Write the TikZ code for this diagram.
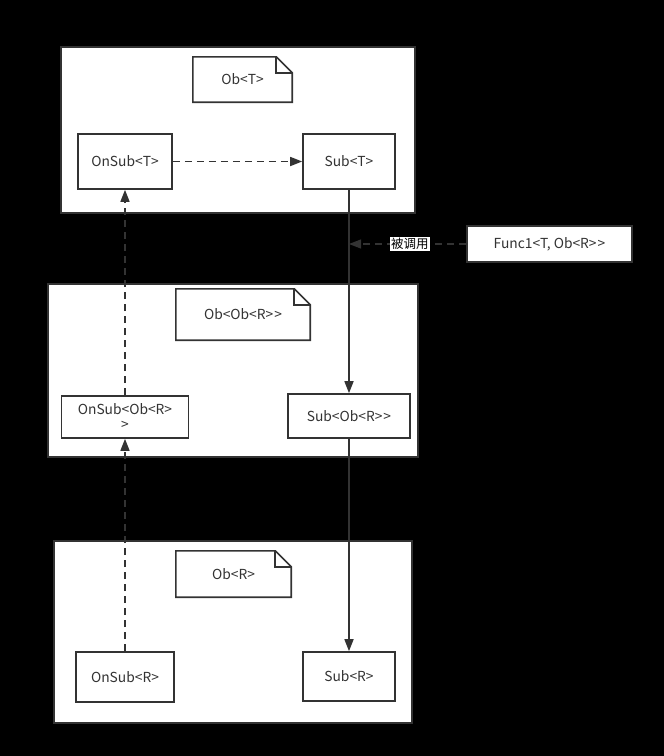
\documentclass[tikz,border=0pt]{standalone}
\usepackage{fontspec}
\setmainfont{Noto Sans CJK SC}[Ligatures=TeXOff]
\usetikzlibrary{arrows.meta}
\definecolor{ln}{HTML}{333333}
\newcommand\gtgt{>\kern1pt>}
\begin{document}
\begin{tikzpicture}[x=1pt,y=-1pt,
  frame/.style={draw=ln, line width=2pt, fill=white, inner sep=0pt},
  blk/.style={draw=ln, line width=1.6pt, fill=white, text=ln, inner sep=0pt,
    font=\fontsize{13.8}{15}\selectfont, align=center},
  notetxt/.style={draw=none, text=ln, inner sep=0pt, font=\fontsize{13.8}{15}\selectfont},
  noteline/.style={draw=ln, line width=1.6pt, line join=miter},
  solidarrow/.style={draw=ln, line width=1.5pt, -{Triangle[length=12pt,width=9pt]}},
  dasharrow/.style={draw=ln, line width=1.5pt, dash pattern=on 7pt off 5pt, -{Triangle[length=12pt,width=9pt]}},
  lbl/.style={fill=white, text=black, inner sep=1pt, font=\fontsize{12.5}{14}\selectfont}
]
\useasboundingbox (0,0) rectangle (664,756);
\fill[black] (0,0) rectangle (664,756);

% frames
\node[frame, minimum width=354pt, minimum height=166pt] (f1) at (238,130) {};
\node[frame, minimum width=370pt, minimum height=173pt] (f2) at (233,370.5) {};
\node[frame, minimum width=358pt, minimum height=182pt] (f3) at (233,632) {};

% notes
\foreach \n/\cx/\cy/\w/\h/\t in {n1/242.5/79.5/99/45/{Ob<T>}, n2/243/314.5/134/51/{Ob<Ob<R\gtgt}, n3/233.5/574/115/46/{Ob<R>}}{
  \node[notetxt, minimum width=\w pt, minimum height=\h pt] (\n) at (\cx,\cy) {\t};
  \draw[noteline] (\n.south west) -- (\n.north west) -- ([xshift=-16pt]\n.north east)
    -- ([yshift=-16pt]\n.north east) -- (\n.south east) -- cycle;
  \draw[noteline] ([xshift=-16pt]\n.north east) -- ([xshift=-16pt,yshift=-16pt]\n.north east)
    -- ([yshift=-16pt]\n.north east);
}

% blocks
\node[blk, minimum width=94pt, minimum height=55pt] (ost) at (125,161.5) {OnSub<T>};
\node[blk, minimum width=92pt, minimum height=55pt] (st) at (349,161.5) {Sub<T>};
\node[blk, minimum width=127pt, minimum height=42pt] (osor) at (125,417) {OnSub<Ob<R>\\>};
\node[blk, minimum width=122pt, minimum height=44pt] (sor) at (349,416) {Sub<Ob<R\gtgt};
\node[blk, minimum width=98pt, minimum height=50pt] (osr) at (125,677) {OnSub<R>};
\node[blk, minimum width=92pt, minimum height=49pt] (sr) at (349,676.5) {Sub<R>};
\node[blk, minimum width=165pt, minimum height=36pt] (func) at (549.5,244) {Func1<T, Ob<R\gtgt};

% connectors
\draw[dasharrow] (ost.east) -- (st.west);
\draw[solidarrow] (st.south) -- (sor.north);
\draw[solidarrow] (sor.south) -- (sr.north);
\draw[dasharrow] (osr.north) -- (osor.south);
\draw[dasharrow] (osor.north) -- (ost.south);
\coordinate (hit) at (349,244);
\draw[dasharrow, line width=1.2pt] (func.west) -- (hit) node[lbl, pos=0.48] (lab) {被调用};
\end{tikzpicture}
\end{document}
